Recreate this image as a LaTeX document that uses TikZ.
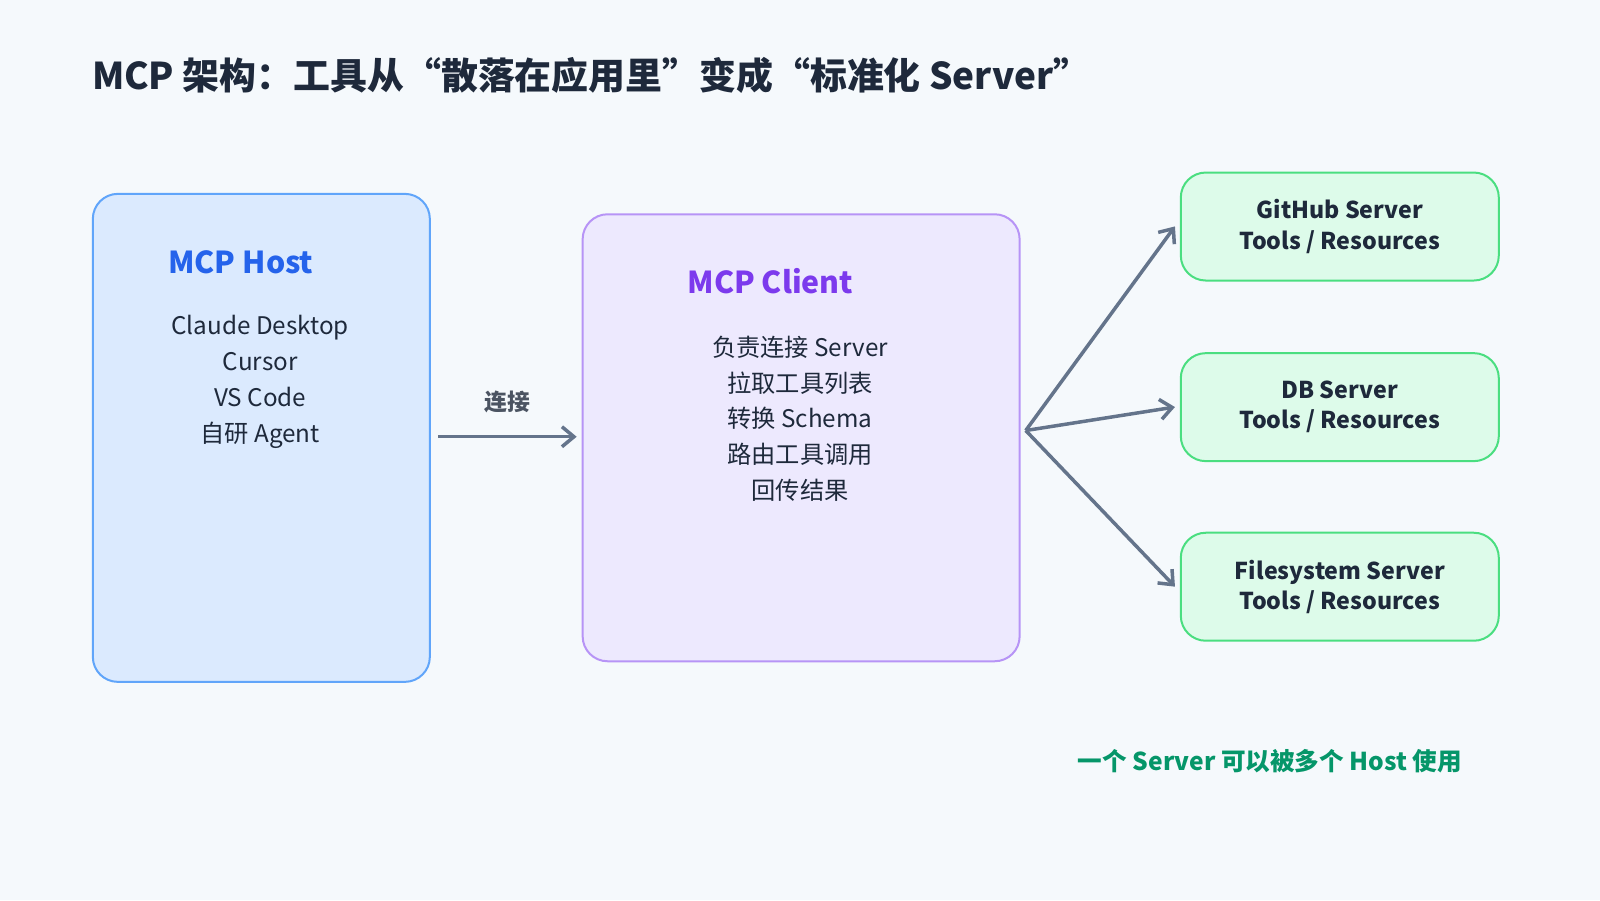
\documentclass[tikz,border=0pt]{standalone}
\usepackage{fontspec}
\setmainfont{Noto Sans CJK SC}
\usetikzlibrary{arrows.meta,positioning}
\definecolor{bgc}{HTML}{F5F9FC}
\definecolor{hostFill}{HTML}{DBEAFE}
\definecolor{hostLine}{HTML}{60A5FA}
\definecolor{hostText}{HTML}{2563EB}
\definecolor{cliFill}{HTML}{EDE9FE}
\definecolor{cliLine}{HTML}{B794F6}
\definecolor{cliText}{HTML}{7C3AED}
\definecolor{srvFill}{HTML}{DDFBEA}
\definecolor{srvLine}{HTML}{4ADE80}
\definecolor{noteText}{HTML}{059669}
\definecolor{arrowc}{HTML}{64748B}
\definecolor{ink}{HTML}{1E293B}
\tikzset{
  tsBox/.style={rectangle, rounded corners=0.25cm, line width=0.2mm, anchor=north west},
  tsServer/.style={tsBox, fill=srvFill, draw=srvLine, minimum width=3.18cm, minimum height=1.08cm,
    align=center, font=\fontsize{6.6}{8.6}\selectfont\bfseries, text=ink, anchor=center},
  tsBody/.style={align=center, font=\fontsize{6.9}{10.2}\selectfont, text=ink},
  tsArrow/.style={draw=arrowc, line width=0.35mm, -{Straight Barb[length=1.2mm,width=2mm]}}
}
\begin{document}
\begin{tikzpicture}
\fill[bgc] (0,0) rectangle (16,9);
\useasboundingbox (0,0) rectangle (16,9);
\begin{scope}[scale=1.0204]
\node[anchor=west, font=\fontsize{10.5}{13}\selectfont\bfseries, text=ink] (title) at (0.78,8.08)
  {MCP 架构：工具从“散落在应用里”变成“标准化 Server”};

% host
\node[tsBox, fill=hostFill, draw=hostLine, minimum width=3.37cm, minimum height=4.88cm] (host) at (0.9,6.93) {};
\node[font=\fontsize{8.6}{10}\selectfont\bfseries, text=hostText] (hostT) at (2.36,6.25) {MCP Host};
\node[tsBody, anchor=north] (hostB) at (2.55,5.85) {Claude Desktop\\Cursor\\VS Code\\自研 Agent};

% client
\node[tsBox, fill=cliFill, draw=cliLine, minimum width=4.37cm, minimum height=4.47cm] (client) at (5.7,6.73) {};
\node[font=\fontsize{8.6}{10}\selectfont\bfseries, text=cliText] (cliT) at (7.55,6.06) {MCP Client};
\node[tsBody, anchor=north] (cliB) at (7.84,5.65) {负责连接 Server\\拉取工具列表\\转换 Schema\\路由工具调用\\回传结果};

% servers
\node[tsServer] (github) at (13.13,6.60) {GitHub Server\\Tools / Resources};
\node[tsServer] (db) at (13.13,4.83) {DB Server\\Tools / Resources};
\node[tsServer] (fs) at (13.13,3.07) {Filesystem Server\\Tools / Resources};

% connectors
\coordinate (hub) at (10.05,4.6);
\draw[tsArrow] ([xshift=0.07cm]host.east |- 0,4.54) -- node[above=0.1cm, font=\fontsize{6.5}{8}\selectfont\bfseries, text=ink!80] {连接} ([xshift=-0.05cm]client.west |- 0,4.54);
\draw[tsArrow] (hub) -- ([xshift=-0.05cm]github.west);
\draw[tsArrow] (hub) -- ([xshift=-0.05cm]db.west);
\draw[tsArrow] (hub) -- ([xshift=-0.05cm]fs.west);

\node[anchor=east, font=\fontsize{7}{9}\selectfont\bfseries, text=noteText] (note) at (14.45,1.36)
  {一个 Server 可以被多个 Host 使用};
\end{scope}
\end{tikzpicture}
\end{document}
